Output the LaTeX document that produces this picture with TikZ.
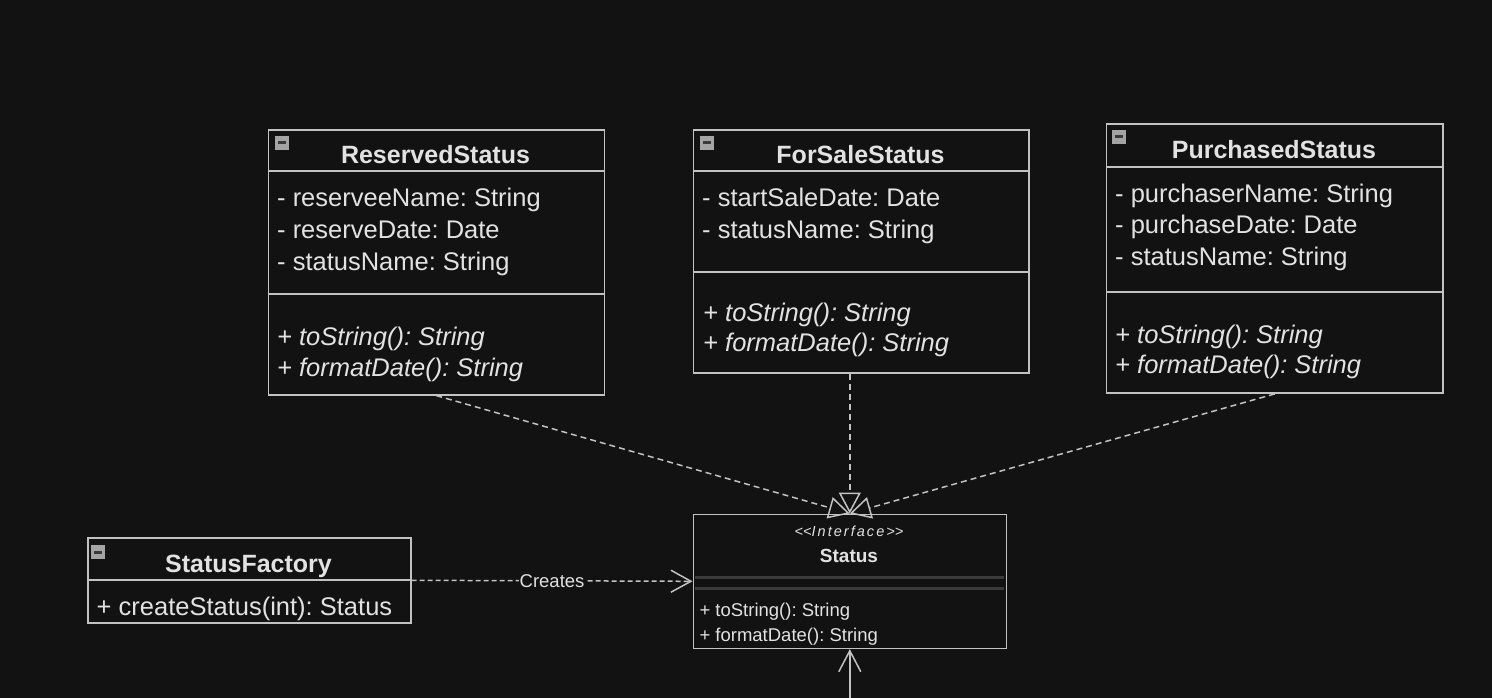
\documentclass[tikz,border=0pt]{standalone}
\usepackage{fontspec}
\setmainfont{Liberation Sans}
\newfontfamily\ifacefont[LetterSpace=14]{Liberation Sans}
\usetikzlibrary{arrows.meta}
\frenchspacing
\definecolor{bg}{HTML}{121212}
\definecolor{ln}{HTML}{C2C2C2}
\definecolor{tx}{HTML}{E2E2E2}
\definecolor{sepd}{HTML}{3A3A3A}
\definecolor{icon}{HTML}{A4A4A4}
\tikzset{
 classbox/.style={draw=ln, line width=1.6pt, fill=bg, inner sep=0pt, anchor=north west},
 sepline/.style={draw=ln, line width=2pt},
 ttl/.style={text=tx, font=\fontsize{25}{30}\selectfont\bfseries, inner sep=0pt, anchor=base},
 attr/.style={text=tx, font=\fontsize{25.5}{30}\selectfont, inner sep=0pt, anchor=base west},
 meth/.style={text=tx, font=\fontsize{25.5}{30}\selectfont\itshape, inner sep=0pt, anchor=base west},
 smalltxt/.style={text=tx, font=\fontsize{18.5}{22}\selectfont, inner sep=0pt, anchor=base west},
 realize/.style={draw=ln, line width=1.5pt, dash pattern=on 6pt off 4pt, -{Triangle[open, length=21pt, width=22pt, line width=1.5pt]}},
 depend/.style={draw=ln, line width=1.5pt, dash pattern=on 5pt off 3pt, -{Straight Barb[length=20pt, width=22pt, line width=1.5pt]}},
 assoc/.style={draw=ln, line width=1.6pt, -{Straight Barb[length=21pt, width=22pt, line width=1.5pt]}},
 lab/.style={text=tx, fill=bg, inner sep=1pt, font=\fontsize{18.5}{22}\selectfont}
}
\def\minusicon#1#2{%
  \fill[icon] (#1,#2) rectangle ++(14,14);
  \fill[sepd] (#1+3,#2+5.5) rectangle ++(8,3);
}
\begin{document}
\begin{tikzpicture}[x=1pt,y=-1pt]
\fill[bg] (0,0) rectangle (1492,698);
\useasboundingbox (0,0) rectangle (1492,698);

% ReservedStatus
\node[classbox, minimum width=336pt, minimum height=265pt] (res) at (267.5,129) {};
\draw[sepline] (267.5,171.5) -- (603.5,171.5);
\draw[sepline] (267.5,293.5) -- (603.5,293.5);
\minusicon{275}{136}
\node[ttl] (resT) at (435.5,164) {ReservedStatus};
\node[attr] (resA1) at (277,207) {- reserveeName: String};
\node[attr] (resA2) at (277,238.7) {- reserveDate: Date};
\node[attr] (resA3) at (277,270.5) {- statusName: String};
\node[meth] (resM1) at (277,345) {+ toString(): String};
\node[meth] (resM2) at (277,376.7) {+ formatDate(): String};

% ForSaleStatus
\node[classbox, minimum width=335.5pt, minimum height=243pt] (fs) at (692.7,129) {};
\draw[sepline] (692.7,171.5) -- (1028.2,171.5);
\draw[sepline] (692.7,272.3) -- (1028.2,272.3);
\minusicon{700}{136}
\node[ttl] (fsT) at (860.5,164) {ForSaleStatus};
\node[attr] (fsA1) at (702,206.7) {- startSaleDate: Date};
\node[attr] (fsA2) at (702,238.3) {- statusName: String};
\node[meth] (fsM1) at (703,321.7) {+ toString(): String};
\node[meth] (fsM2) at (703,351.7) {+ formatDate(): String};

% PurchasedStatus
\node[classbox, minimum width=336.5pt, minimum height=269pt] (pur) at (1105.7,123.3) {};
\draw[sepline] (1105.7,166.7) -- (1442.2,166.7);
\draw[sepline] (1105.7,291.7) -- (1442.2,291.7);
\minusicon{1112}{130}
\node[ttl] (purT) at (1274,158.3) {PurchasedStatus};
\node[attr] (purA1) at (1115,202.3) {- purchaserName: String};
\node[attr] (purA2) at (1115,233.3) {- purchaseDate: Date};
\node[attr] (purA3) at (1115,265) {- statusName: String};
\node[meth] (purM1) at (1115,343.3) {+ toString(): String};
\node[meth] (purM2) at (1115,373.3) {+ formatDate(): String};

% StatusFactory
\node[classbox, minimum width=323pt, minimum height=85pt] (sf) at (87,537) {};
\draw[sepline] (87,580) -- (410,580);
\minusicon{91}{545}
\node[ttl] (sfT) at (248.5,572.7) {StatusFactory};
\node[attr] (sfM1) at (96.5,615) {+ createStatus(int): Status};

% Status interface
\node[classbox, minimum width=313pt, minimum height=134pt] (st) at (692.5,513.5) {};
\draw[sepd, line width=3pt] (694.5,577) -- (1004,577);
\draw[sepd, line width=3pt] (694.5,588.5) -- (1004,588.5);
\node[text=tx, inner sep=0pt, anchor=base, font=\ifacefont\fontsize{14.5}{18}\selectfont\itshape] (stS) at (849,536.7) {<\kern0pt<\kern0pt Interface>\kern0pt>};
\node[text=tx, inner sep=0pt, anchor=base, font=\fontsize{19}{22}\selectfont\bfseries] (stT) at (849,562.3) {Status};
\node[smalltxt] (stM1) at (699.3,616.7) {+ toString(): String};
\node[smalltxt] (stM2) at (699.3,641.7) {+ formatDate(): String};

% connectors
\draw[realize] (res.south) -- (st.north);
\draw[realize] (st.north |- fs.south) -- (st.north);
\draw[realize] (pur.south) -- (st.north);
\draw[depend] (sf.east) -- node[lab] (crl) {Creates} (st.west);
\coordinate (bot) at (849,698);
\draw[assoc] (st.south |- bot) -- (st.south);
\end{tikzpicture}
\end{document}
